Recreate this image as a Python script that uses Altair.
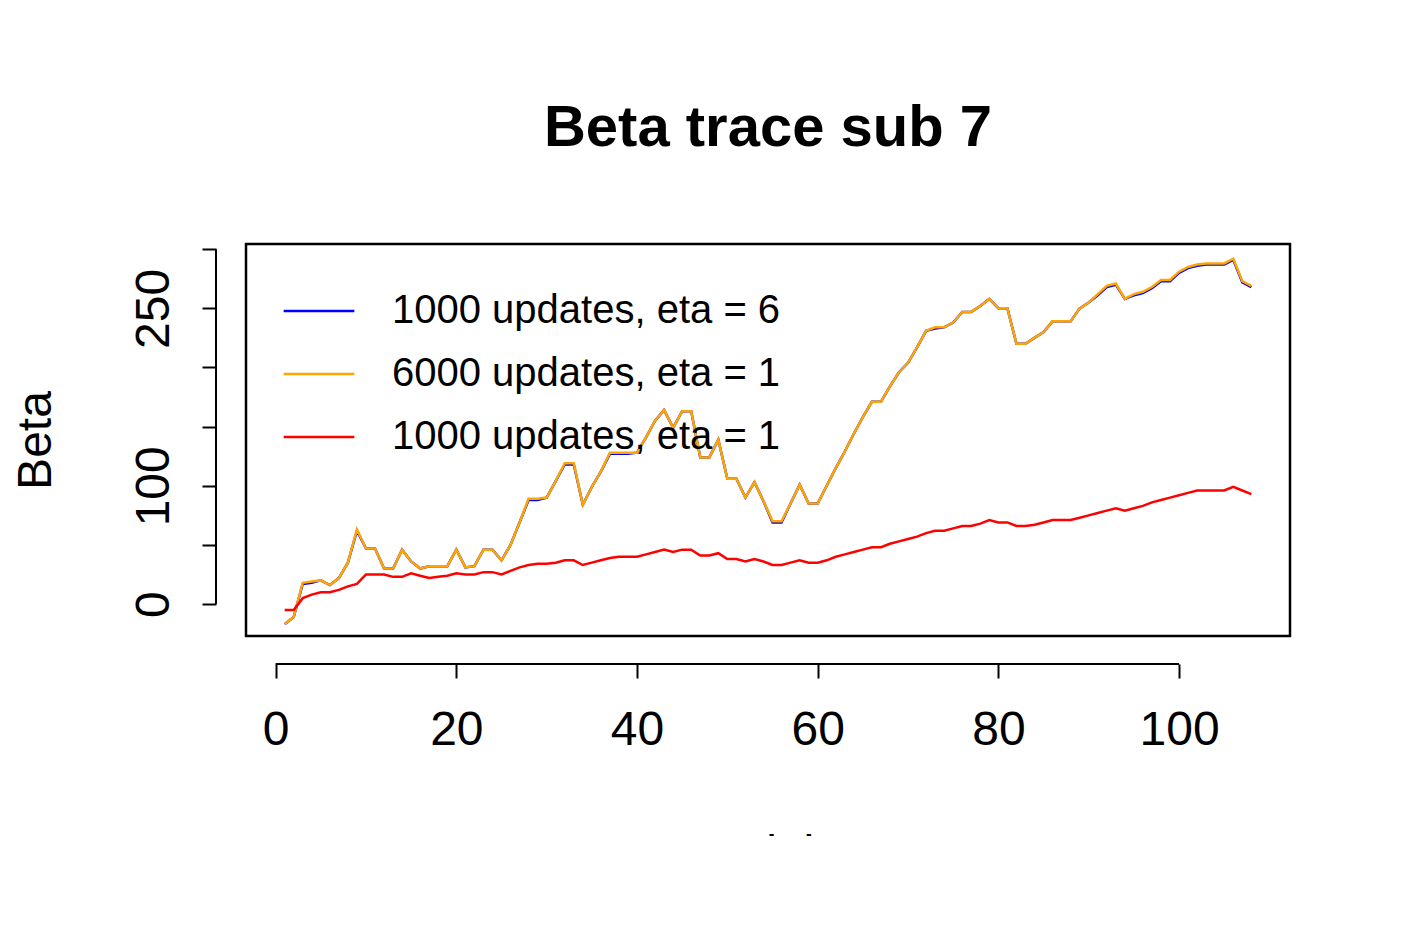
import pandas as pd
import altair as alt

trials = list(range(1, 109))

# 6000 updates, eta = 1
orange = [-17, -11, 18, 19, 20, 16, 22, 35, 63, 47, 47, 30, 30, 46, 36, 30, 32, 32, 32, 46,
          31, 32, 46, 46, 37, 50, 69, 89, 89, 90, 104, 119, 119, 84, 99, 112, 128, 128, 128, 128,
          141, 155, 164, 149, 163, 163, 124, 124, 139, 106, 106, 90, 103, 87, 70, 70, 85, 101, 85, 85,
          100, 115, 129, 144, 158, 171, 171, 184, 196, 204, 217, 231, 234, 234, 238, 247, 247, 252, 258, 250,
          250, 220, 220, 225, 230, 239, 239, 239, 250, 255, 262, 269, 271, 258, 262, 264, 268, 274, 274, 281,
          285, 287, 288, 288, 288, 292, 273, 269]
# 1000 updates, eta = 6
blue = [-17, -11, 17, 18, 20, 16, 22, 35, 62, 47, 47, 30, 30, 46, 36, 30, 32, 32, 32, 46,
        31, 32, 46, 46, 37, 50, 69, 88, 88, 90, 104, 118, 118, 84, 99, 112, 127, 127, 127, 128,
        141, 155, 164, 149, 163, 163, 124, 124, 139, 106, 106, 90, 103, 87, 69, 69, 85, 101, 85, 85,
        100, 115, 129, 144, 158, 171, 171, 184, 196, 204, 217, 231, 233, 234, 238, 247, 247, 252, 258, 250,
        250, 220, 220, 225, 230, 239, 239, 239, 250, 255, 261, 268, 270, 258, 261, 263, 267, 273, 273, 280,
        284, 286, 287, 287, 287, 291, 272, 268]
# 1000 updates, eta = 1
red = [-5, -5, 5, 8, 10, 10, 12, 15, 17, 25, 25, 25, 23, 23, 26, 24, 22, 23, 24, 26,
       25, 25, 27, 27, 25, 28, 31, 33, 34, 34, 35, 37, 37, 33, 35, 37, 39, 40, 40, 40,
       42, 44, 46, 44, 46, 46, 41, 41, 43, 38, 38, 36, 38, 36, 33, 33, 35, 37, 35, 35,
       37, 40, 42, 44, 46, 48, 48, 51, 53, 55, 57, 60, 62, 62, 64, 66, 66, 68, 71, 69,
       69, 66, 66, 67, 69, 71, 71, 71, 73, 75, 77, 79, 81, 79, 81, 83, 86, 88, 90, 92,
       94, 96, 96, 96, 96, 99, 96, 93]

series = ["1000 updates, eta = 6", "6000 updates, eta = 1", "1000 updates, eta = 1"]
colors = ["#0000ff", "#ffa500", "#ff0000"]

rows = []
for name, vals in zip(series, [blue, orange, red]):
    for t, v in zip(trials, vals):
        rows.append({"Trial": t, "Beta": v, "series": name})
df = pd.DataFrame(rows)

F = "Liberation Sans"

lines = alt.Chart(df).mark_line(strokeWidth=2.5).encode(
    x=alt.X("Trial:Q", scale=alt.Scale(domain=[-3.28, 112.28], nice=False, zero=False),
            axis=alt.Axis(values=[0, 20, 40, 60, 80, 100], domain=False, offset=28,
                          tickSize=14, tickColor="black", tickWidth=2, grid=False,
                          labelFontSize=48, labelPadding=28, labelColor="black", labelFont=F,
                          title="Trial", titleFontSize=48, titleFontWeight="normal", titleFont=F,
                          titlePadding=76, titleColor="black")),
    y=alt.Y("Beta:Q", scale=alt.Scale(domain=[-27, 304.4], nice=False, zero=False),
            axis=alt.Axis(values=[0, 50, 100, 150, 200, 250, 300], domain=False, offset=30,
                          tickSize=14, tickColor="black", tickWidth=2, grid=False,
                          labelExpr="datum.value == 0 || datum.value == 100 || datum.value == 250 ? datum.label : ''",
                          labelFontSize=48, labelAngle=270, labelAlign="center", labelFont=F,
                          labelBaseline="bottom", labelPadding=24, labelColor="black",
                          title="Beta", titleFontSize=48, titleFontWeight="normal", titleFont=F,
                          titlePadding=70, titleColor="black")),
    color=alt.Color("series:N", scale=alt.Scale(domain=series, range=colors),
                    sort=series,
                    legend=alt.Legend(title=None, orient="none", legendX=36, legendY=30,
                                      symbolType="stroke", symbolSize=5000, symbolStrokeWidth=2.5,
                                      labelFontSize=40, labelFont=F, labelColor="black",
                                      rowPadding=6, labelOffset=36, labelLimit=700)),
)

yline = alt.Chart(pd.DataFrame({"a": [0], "b": [300]})).mark_rule(color="black", strokeWidth=2).encode(
    y="a:Q", y2="b:Q", x=alt.value(-30))
xline = alt.Chart(pd.DataFrame({"a": [0], "b": [100]})).mark_rule(color="black", strokeWidth=2).encode(
    x="a:Q", x2="b:Q", y=alt.value(420))

chart = alt.layer(lines, yline, xline).properties(
    width=1044, height=392,
    autosize="none",
    padding={"left": 238, "top": 236, "right": 100, "bottom": 200},
    title=alt.TitleParams("Beta trace sub 7", fontSize=58, fontWeight="bold", font=F,
                          anchor="middle", offset=86, color="black"),
).configure_view(stroke="black", strokeWidth=2.5)

chart.save("out.html", embed_options={"renderer": "svg", "actions": False})
